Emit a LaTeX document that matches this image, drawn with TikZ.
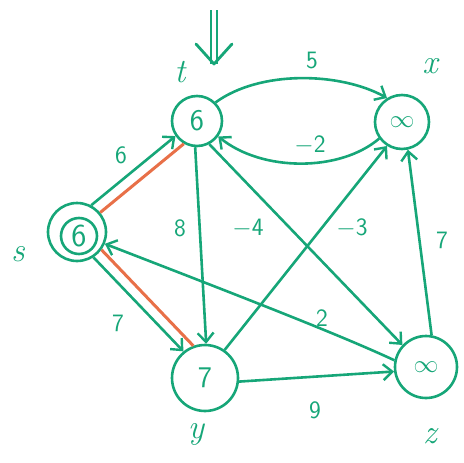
\documentclass[tikz,border=0pt]{standalone}
\usetikzlibrary{arrows.meta}
\definecolor{gr}{RGB}{22,166,120}
\definecolor{rd}{RGB}{232,112,72}
\begin{document}
\begin{tikzpicture}[x=1pt,y=-1pt,
  vert/.style={circle,draw=gr,line width=2.6pt,inner sep=0pt,text=gr,font=\sffamily\fontsize{30}{30}\selectfont},
  edge/.style={draw=gr,line width=2.6pt,-{Straight Barb[length=9pt,width=16pt,line width=2.4pt]}},
  wt/.style={text=gr,font=\sffamily\fontsize{25}{25}\selectfont,inner sep=1pt},
  nm/.style={text=gr,font=\itshape\fontsize{34}{34}\selectfont,inner sep=1pt},
  tree/.style={draw=rd,line width=3pt}]
\useasboundingbox (0,0) rectangle (463,463);
\node[vert,minimum size=58pt] (s) at (77,232) {};
\draw[gr,line width=2.6pt] (79,236) circle (18);
\node[text=gr,font=\sffamily\fontsize{32}{32}\selectfont] at (79,236) {6};
\node[vert,minimum size=50pt] (t) at (197,121) {6};
\node[vert,minimum size=54pt] (x) at (402,122) {$\infty$};
\node[vert,minimum size=66pt] (y) at (205,378) {7};
\node[vert,minimum size=62pt] (z) at (426,367) {$\infty$};
% tree edges
\draw[tree] (s.40) -- (t.240);
\draw[tree] (s.324) -- (y.110);
% edges
\draw[edge] (s.62) -- (t.215);
\draw[edge] (s.303) -- (y.129);
\draw[edge] (t.45) .. controls (260,70) and (340,72) .. (x.122);
\draw[edge] (x.216) .. controls (340,172) and (262,172) .. (t.324);
\draw[edge] (t.266) -- (y.88);
\draw[edge] (t.298) -- (z.137);
\draw[edge] (y.55) -- (x.238);
\draw[edge] (z.80) -- (x.282);
\draw[edge] (y.354) -- (z.188);
\draw[edge] (z.168) .. controls (340,335) and (250,300) .. (s.337);
% weights
\node[wt] (w1) at (312,60) {5};
\node[wt] (w2) at (310,145) {$-$2};
\node[wt] (w3) at (121,155) {6};
\node[wt] (w4) at (180,228) {8};
\node[wt] (w5) at (248,228) {$-$4};
\node[wt] (w6) at (352,228) {$-$3};
\node[wt] (w7) at (442,240) {7};
\node[wt] (w8) at (322,318) {2};
\node[wt] (w9) at (118,323) {7};
\node[wt] (w10) at (315,410) {9};
% names
\node[nm] (ls) at (18,254) {s};
\node[nm] (lt) at (180,72) {t};
\node[nm] (lx) at (430,66) {x};
\node[nm] (ly) at (196,434) {y};
\node[nm] (lz) at (430,436) {z};
% start marker
\coordinate (a0) at (214,10);
\coordinate (a1) at (214,64);
\coordinate (h1) at (196,44);
\coordinate (h2) at (232,44);
\draw[gr,line width=2.2pt,double distance=4pt] (a0) -- (a1);
\draw[gr,line width=2.8pt,line join=round,line cap=round] (h1) -- (a1) -- (h2);
\end{tikzpicture}
\end{document}
